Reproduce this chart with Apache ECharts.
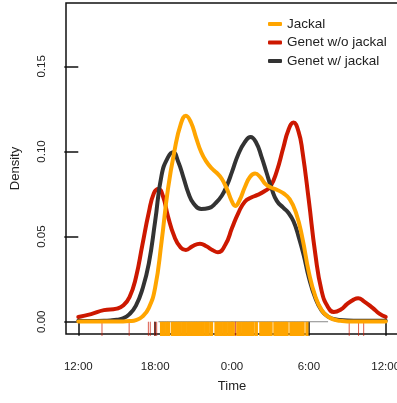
<!DOCTYPE html>
<html><head><meta charset="utf-8">
<script src="https://cdn.jsdelivr.net/npm/echarts@6/dist/echarts.min.js"></script>
<style>html,body{margin:0;padding:0;background:#fff}#c{width:397px;height:403px}</style>
</head><body><div id="c"></div>
<script>
// Time in hours after 12:00 (0 = 12:00, 12 = 0:00, 24 = 12:00 next day)
const jackalHours   = [0,3.5,4,4.5,5,5.5,6,6.5,7,7.5,8,8.4,8.8,9.2,9.6,10,10.4,10.8,11.2,11.6,12,12.25,12.6,13,13.4,13.8,14.2,14.6,15,15.5,16,16.5,17,17.5,18,18.5,19,19.5,20,20.5,21,24];
const jackalDensity = [0.0002,0.0002,0.0004,0.001,0.003,0.008,0.020,0.047,0.078,0.100,0.116,0.121,0.117,0.108,0.0995,0.094,0.0902,0.0875,0.084,0.078,0.0705,0.068,0.0715,0.079,0.085,0.087,0.085,0.081,0.079,0.0775,0.0755,0.072,0.064,0.049,0.029,0.015,0.0068,0.003,0.0012,0.0005,0.0002,0.0002];

const genetWithoutHours   = [0,1,2,3,3.5,4,4.5,5,5.5,5.9,6.25,6.6,7,7.5,8,8.4,8.9,9.5,10,10.5,10.9,11.5,12,12.5,13,13.5,14,14.5,15,15.5,16,16.4,16.8,17.2,17.5,18,18.5,19,19.5,19.95,20.5,21,21.5,21.85,22.3,23,23.5,24];
const genetWithoutDensity = [0.0028,0.0045,0.0068,0.0077,0.0095,0.0145,0.026,0.045,0.064,0.0755,0.078,0.074,0.062,0.050,0.0435,0.0422,0.0443,0.0458,0.0443,0.042,0.0408,0.0455,0.055,0.064,0.0705,0.073,0.0745,0.0765,0.0795,0.0885,0.102,0.1125,0.117,0.1115,0.100,0.071,0.040,0.018,0.0085,0.0057,0.0072,0.0105,0.013,0.0138,0.012,0.008,0.0048,0.0028];

const genetWithHours   = [0,1,2,2.5,3,3.5,4,4.5,5,5.5,6,6.5,7,7.4,7.8,8.2,8.6,9,9.6,10.2,10.7,11.2,11.6,12,12.5,13,13.45,13.9,14.3,14.7,15.1,15.5,16,16.4,16.8,17.2,17.6,18,18.5,19,19.5,20,21,22,24];
const genetWithDensity = [0.0006,0.0005,0.0006,0.0008,0.0012,0.002,0.0045,0.0095,0.019,0.034,0.059,0.086,0.0965,0.0995,0.094,0.085,0.0755,0.0695,0.0662,0.0668,0.0695,0.074,0.080,0.088,0.0985,0.1055,0.1085,0.105,0.097,0.0875,0.078,0.071,0.067,0.064,0.059,0.050,0.039,0.026,0.014,0.0065,0.003,0.0015,0.0008,0.0006,0.0006];

const seriesNames = ['Jackal','Genet w/o jackal','Genet w/ jackal'];
const xTickHours = [0,6,12,18,24];
const xTickLabels = ['12:00','18:00','0:00','6:00','12:00'];
const yTickValues = [0,0.05,0.10,0.15];
const yTickLabels = ['0.00','0.05','0.10','0.15'];

// rug observations (hours after 12:00)
const rugGenetWithout = [1.85,3.97,5.47,5.62,5.97,6.12,12.27,21.15,21.88,22.28];
const rugJackal = [6.5,6.7,6.9,7.05,7.35,7.55,7.75,7.95,8.15,8.35,8.55,8.75,8.95,9.15,9.35,9.55,9.75,9.95,10.15,10.4,10.75,10.95,11.15,11.35,11.55,11.75,11.95,12.1,12.45,12.65,12.85,13.05,13.25,13.45,13.65,13.9,14.25,14.45,14.65,14.85,15.05,15.35,15.55,15.75,15.95,16.15,16.3,16.6,16.8,17.0,17.2,17.4,17.55,17.85];
const baselineSpan = [6.26,19.5];

const X_MIN = -0.96, X_MAX = 24.96, Y_MIN = -0.0072, Y_MAX = 0.1872;
const C_JACKAL = '#FFA500', C_WITHOUT = '#CD1800', C_WITH = '#333333';
const FONT = '"Liberation Sans", Arial, Helvetica, sans-serif';

function pairs(xs, ys){ return xs.map((h,i)=>[h, ys[i]]); }
function rugSeries(data, color, width){
  return {
    type:'custom', silent:true, z:2,
    data: data.map(h=>[h]),
    renderItem: function(params, api){
      const h = api.value(0);
      const p1 = api.coord([h, 0]);
      const p2 = api.coord([h, Y_MIN]);
      return {type:'line', shape:{x1:p1[0], y1:p1[1], x2:p2[0], y2:p2[1]+2}, style:{stroke:color, lineWidth:width}};
    }
  };
}
function curve(name, xs, ys, color, z){
  return {
    name, type:'line', data: pairs(xs, ys), smooth:0.5, showSymbol:false, symbol:'none', z,
    color, lineStyle:{color, width:4, cap:'round', join:'round'}, clip:true
  };
}

const chart = echarts.init(document.getElementById('c'), null, {renderer:'canvas'});
chart.setOption({
  animation:false,
  backgroundColor:'#ffffff',
  textStyle:{fontFamily:FONT},
  grid:{left:66, top:3, width:332, height:331, containLabel:false, outerBoundsMode:'none',
    show:true, borderColor:'#111', borderWidth:1.5, backgroundColor:'transparent'},
  legend:{
    data: seriesNames, orient:'vertical', left:263, top:12, itemWidth:14, itemHeight:4, itemGap:4.5,
    icon:'roundRect', textStyle:{fontSize:13.5, color:'#222', fontFamily:FONT, lineHeight:14}
  },
  xAxis:{
    type:'value', min:X_MIN, max:X_MAX,
    axisLine:{show:false}, splitLine:{show:false},
    axisTick:{show:true, customValues:xTickHours, length:14, lineStyle:{color:'#111', width:1.5}},
    axisLabel:{customValues:xTickHours, margin:27, fontSize:11.5, color:'#222', fontFamily:FONT,
      formatter:v=>xTickLabels[xTickHours.indexOf(v)]},
    name:'Time', nameLocation:'middle', nameGap:46,
    nameTextStyle:{fontSize:13, color:'#222', fontFamily:FONT}
  },
  yAxis:{
    type:'value', min:Y_MIN, max:Y_MAX,
    axisLine:{show:false}, splitLine:{show:false},
    axisTick:{show:true, customValues:yTickValues, length:14, lineStyle:{color:'#111', width:1.5}},
    axisLabel:{customValues:yTickValues, margin:18, rotate:90, fontSize:11.5, color:'#222', fontFamily:FONT,
      formatter:v=>yTickLabels[yTickValues.findIndex(t=>Math.abs(t-v)<1e-9)]},
    name:'Density', nameLocation:'middle', nameGap:44, nameRotate:90,
    nameTextStyle:{fontSize:13, color:'#222', fontFamily:FONT}
  },
  series:[
    {type:'line', silent:true, data: baselineSpan.map(h=>[h,0]), showSymbol:false, symbol:'none', z:1,
      lineStyle:{color:'#888', width:1}},
    rugSeries(rugJackal, C_JACKAL, 3.2),
    rugSeries(rugGenetWithout, 'rgba(205,24,0,0.7)', 1),
    curve(seriesNames[1], genetWithoutHours, genetWithoutDensity, C_WITHOUT, 3),
    curve(seriesNames[2], genetWithHours, genetWithDensity, C_WITH, 4),
    curve(seriesNames[0], jackalHours, jackalDensity, C_JACKAL, 5)
  ]
});
</script></body></html>
